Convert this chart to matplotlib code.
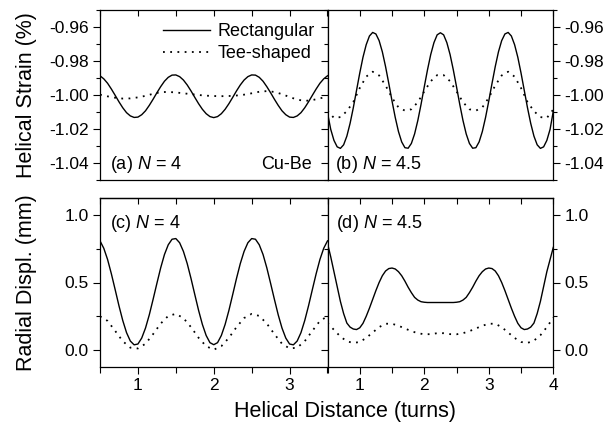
import numpy as np
import matplotlib.pyplot as plt
from matplotlib.ticker import MultipleLocator

plt.rcParams['font.family'] = ['Liberation Sans', 'DejaVu Sans']
plt.rcParams['mathtext.fontset'] = 'custom'
plt.rcParams['mathtext.rm'] = 'Liberation Sans'
plt.rcParams['mathtext.it'] = 'Liberation Sans:italic'

# sample positions (turns)
x_n4_fine = np.round(np.arange(0.5, 3.5001, 0.05), 2)
x_n4_coarse = np.round(np.arange(0.5, 3.5001, 0.1), 2)
x_n45_fine = np.round(np.arange(0.5, 4.0001, 0.05), 2)
x_n45_coarse = np.round(np.arange(0.5, 4.0001, 0.1), 2)

# (a) helical strain, N = 4
strain_rect_n4 = [-0.9887, -0.9905, -0.9931, -0.9965, -1.0002, -1.0040, -1.0075, -1.0104, -1.0123, -1.0132,
                  -1.0130, -1.0116, -1.0093, -1.0061, -1.0025, -0.9987, -0.9951, -0.9919, -0.9896, -0.9883,
                  -0.9882, -0.9892, -0.9912, -0.9941, -0.9976, -1.0014, -1.0051, -1.0084, -1.0110, -1.0127,
                  -1.0133,
                  -1.0127, -1.0110, -1.0084, -1.0051, -1.0014, -0.9976, -0.9941, -0.9912, -0.9892, -0.9882,
                  -0.9883, -0.9896, -0.9919, -0.9951, -0.9987, -1.0025, -1.0061, -1.0093, -1.0116, -1.0130,
                  -1.0132, -1.0123, -1.0104, -1.0075, -1.0040, -1.0002, -0.9965, -0.9931, -0.9905, -0.9887]
strain_tee_n4 = [-0.9998, -1.0008, -1.0016, -1.0021, -1.0020, -1.0014, -1.0005, -0.9993, -0.9983, -0.9982,
                 -0.9985, -0.9990, -0.9995, -1.0000, -1.0004, -1.0006, -1.0007, -1.0006, -1.0003, -0.9998,
                 -0.9990, -0.9981, -0.9977, -0.9982, -0.9995, -1.0012, -1.0027, -1.0035, -1.0030, -1.0020,
                 -1.0008]

# (b) helical strain, N = 4.5
strain_rect_n45 = [-1.0105, -1.0202, -1.0267, -1.0305, -1.0314, -1.0293, -1.0242, -1.0167, -1.0075, -0.9973,
                   -0.9871, -0.9778, -0.9704, -0.9653, -0.9632, -0.9641, -0.9680, -0.9746, -0.9833, -0.9932,
                   -1.0035, -1.0132, -1.0215, -1.0276, -1.0310, -1.0313, -1.0285, -1.0229, -1.0150, -1.0055,
                   -0.9952, -0.9852, -0.9762, -0.9692, -0.9646, -0.9634,
                   -0.9646, -0.9692, -0.9762, -0.9852, -0.9952, -1.0055, -1.0150, -1.0229, -1.0285, -1.0313,
                   -1.0310, -1.0276, -1.0215, -1.0132, -1.0035, -0.9932, -0.9833, -0.9746, -0.9680, -0.9641,
                   -0.9632, -0.9653, -0.9704, -0.9778, -0.9871, -0.9973, -1.0075, -1.0167, -1.0242, -1.0293,
                   -1.0314, -1.0305, -1.0267, -1.0202, -1.0095]
strain_tee_n45 = [-1.0092, -1.0135, -1.0130, -1.0095, -1.0041, -0.9959, -0.9892, -0.9863, -0.9885, -0.9944,
                  -1.0016, -1.0073, -1.0092, -1.0084, -1.0042, -0.9979, -0.9919, -0.9883,
                  -0.9883, -0.9919, -0.9979, -1.0042, -1.0084, -1.0092, -1.0073, -1.0016, -0.9944, -0.9885,
                  -0.9863, -0.9892, -0.9959, -1.0041, -1.0095, -1.0130, -1.0135, -1.0085]

# (c) radial displacement, N = 4
disp_rect_n4 = [0.808, 0.753, 0.670, 0.564, 0.447, 0.328, 0.219, 0.129, 0.067, 0.039,
                0.045, 0.089, 0.163, 0.261, 0.375, 0.493, 0.608, 0.707, 0.779, 0.820,
                0.825, 0.794, 0.730, 0.640, 0.530, 0.411, 0.294, 0.190, 0.108, 0.055,
                0.040,
                0.055, 0.108, 0.190, 0.294, 0.411, 0.530, 0.640, 0.730, 0.794, 0.825,
                0.820, 0.779, 0.707, 0.608, 0.493, 0.375, 0.261, 0.163, 0.089, 0.045,
                0.039, 0.067, 0.129, 0.219, 0.328, 0.447, 0.564, 0.670, 0.753, 0.808]
disp_tee_n4 = [0.250, 0.216, 0.142, 0.066, 0.018, 0.012, 0.047, 0.118, 0.196, 0.253,
               0.268, 0.237, 0.170, 0.091, 0.029, 0.003, 0.029, 0.091, 0.170, 0.237,
               0.268, 0.253, 0.196, 0.118, 0.047, 0.012, 0.018, 0.066, 0.142, 0.216,
               0.250]

# (d) radial displacement, N = 4.5
disp_rect_n45 = [0.79, 0.69, 0.58, 0.47, 0.36, 0.27, 0.20, 0.17, 0.156, 0.152,
                 0.165, 0.198, 0.25, 0.31, 0.375, 0.44, 0.50, 0.55, 0.585, 0.603,
                 0.607, 0.60, 0.58, 0.55, 0.51, 0.465, 0.425, 0.39, 0.37, 0.358,
                 0.354, 0.352, 0.352, 0.352, 0.352, 0.352,
                 0.352, 0.352, 0.352, 0.352, 0.354, 0.358, 0.37, 0.39, 0.425, 0.465,
                 0.51, 0.55, 0.58, 0.60, 0.607, 0.603, 0.585, 0.55, 0.50, 0.44,
                 0.375, 0.31, 0.25, 0.198, 0.165, 0.152, 0.156, 0.17, 0.20, 0.27,
                 0.36, 0.47, 0.58, 0.67, 0.76]
disp_tee_n45 = [0.20, 0.15, 0.10, 0.065, 0.053, 0.06, 0.09, 0.13, 0.17, 0.195,
                0.195, 0.18, 0.16, 0.14, 0.125, 0.117, 0.118, 0.125, 0.125, 0.118,
                0.117, 0.125, 0.14, 0.16, 0.18, 0.195, 0.195, 0.17, 0.13, 0.09,
                0.06, 0.053, 0.07, 0.11, 0.17, 0.24]

W, H = 614, 429
fig = plt.figure(figsize=(6.14, 4.29), dpi=100)


def box(l, t, r, b):
    return [l / W, 1 - b / H, (r - l) / W, (b - t) / H]


ax_a = fig.add_axes(box(100, 10, 327.5, 180))
ax_b = fig.add_axes(box(327.5, 10, 553.3, 180))
ax_c = fig.add_axes(box(100, 198, 327.5, 367))
ax_d = fig.add_axes(box(327.5, 198, 553.3, 367))

solid = dict(color='black', lw=1.0, ls='-')
dotted = dict(color='black', lw=1.3, ls=(0, (1, 3)))

ax_a.plot(x_n4_fine, strain_rect_n4, label='Rectangular', **solid)
ax_a.plot(x_n4_coarse, strain_tee_n4, label='Tee-shaped', **dotted)
ax_b.plot(x_n45_fine, strain_rect_n45, **solid)
ax_b.plot(x_n45_coarse, strain_tee_n45, **dotted)
ax_c.plot(x_n4_fine, disp_rect_n4, **solid)
ax_c.plot(x_n4_coarse, disp_tee_n4, **dotted)
ax_d.plot(x_n45_fine, disp_rect_n45, **solid)
ax_d.plot(x_n45_coarse, disp_tee_n45, **dotted)

for ax in (ax_a, ax_c):
    ax.set_xlim(0.5, 3.5)
for ax in (ax_b, ax_d):
    ax.set_xlim(0.5, 4.0)
for ax in (ax_a, ax_b):
    ax.set_ylim(-1.05, -0.95)
    ax.yaxis.set_major_locator(MultipleLocator(0.02))
    ax.yaxis.set_minor_locator(MultipleLocator(0.01))
    ax.yaxis.set_major_formatter(plt.FuncFormatter(lambda v, p: f"{v:.2f}"))
for ax in (ax_c, ax_d):
    ax.set_ylim(-0.125, 1.125)
    ax.yaxis.set_major_locator(MultipleLocator(0.5))
    ax.yaxis.set_minor_locator(MultipleLocator(0.25))
    ax.yaxis.set_major_formatter(plt.FuncFormatter(lambda v, p: f"{v:.1f}"))

for ax in (ax_a, ax_b, ax_c, ax_d):
    ax.xaxis.set_major_locator(MultipleLocator(1))
    ax.xaxis.set_minor_locator(MultipleLocator(0.5))
    for s in ax.spines.values():
        s.set_linewidth(0.9)
    ax.tick_params(which='both', labelsize=12.5, width=0.8, pad=3)
    ax.tick_params(which='major', length=5)
    ax.tick_params(which='minor', length=3)

# upper panels: x ticks only along the top edge, pointing in
for ax in (ax_a, ax_b):
    ax.tick_params(axis='x', which='both', bottom=False, labelbottom=False, top=True,
                   direction='in', length=4)

# lower panels: labelled ticks out at the bottom, plain ticks in along the top
for ax in (ax_c, ax_d):
    ax.tick_params(axis='x', which='both', bottom=True, labelbottom=True, top=False, direction='out')
    ax.tick_params(axis='x', which='minor', length=4)
    sec = ax.secondary_xaxis('top')
    sec.xaxis.set_major_locator(MultipleLocator(1))
    sec.xaxis.set_minor_locator(MultipleLocator(0.5))
    sec.tick_params(which='both', direction='in', length=4, width=0.8, labeltop=False)
    sec.spines['top'].set_linewidth(0.9)

for ax in (ax_b, ax_d):
    ax.tick_params(axis='y', which='both', left=True, right=True, labelleft=False, labelright=True,
                   direction='out')
for ax in (ax_a, ax_c):
    ax.tick_params(axis='y', which='both', left=True, right=False, direction='out')

ax_a.legend(loc='upper right', bbox_to_anchor=(1.0, 0.995), frameon=False, fontsize=13,
            handlelength=2.6, handletextpad=0.4, labelspacing=0.25, borderaxespad=0.3)

ax_a.text(0.044, 0.094, '(a) $N$ = 4', transform=ax_a.transAxes, fontsize=13, va='center')
ax_a.text(0.93, 0.094, 'Cu-Be', transform=ax_a.transAxes, fontsize=13, va='center', ha='right')
ax_b.text(0.033, 0.094, '(b) $N$ = 4.5', transform=ax_b.transAxes, fontsize=13, va='center')
ax_c.text(0.044, 0.852, '(c) $N$ = 4', transform=ax_c.transAxes, fontsize=13, va='center')
ax_d.text(0.036, 0.852, '(d) $N$ = 4.5', transform=ax_d.transAxes, fontsize=13, va='center')

fig.text(27 / W, 1 - 95 / H, 'Helical Strain (%)', rotation=90, ha='center', va='center', fontsize=15.5)
fig.text(27 / W, 1 - 282.5 / H, 'Radial Displ. (mm)', rotation=90, ha='center', va='center', fontsize=15.5)
fig.text(345 / W, 1 - 411.7 / H, 'Helical Distance (turns)', ha='center', va='center', fontsize=15.5)

fig.savefig('out.png', dpi=100)
